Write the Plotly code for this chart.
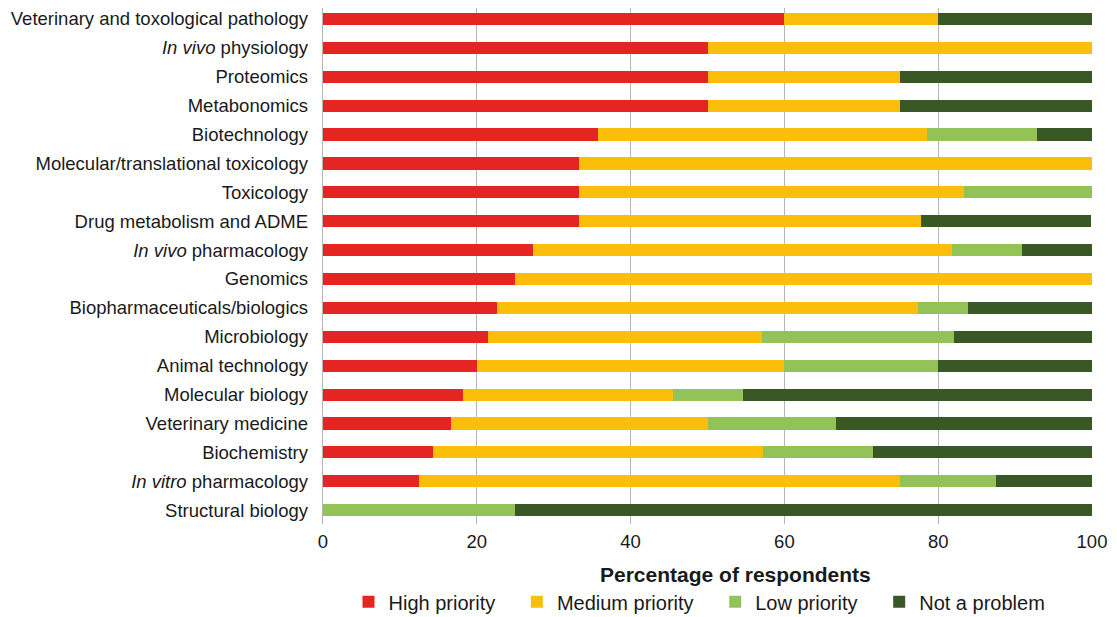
"""Stacked horizontal bar chart: priority by discipline."""

import plotly.graph_objects as go

disciplines = [
    "Veterinary and toxological pathology",
    "<i>In vivo</i> physiology",
    "Proteomics",
    "Metabonomics",
    "Biotechnology",
    "Molecular/translational toxicology",
    "Toxicology",
    "Drug metabolism and ADME",
    "<i>In vivo</i> pharmacology",
    "Genomics",
    "Biopharmaceuticals/biologics",
    "Microbiology",
    "Animal technology",
    "Molecular biology",
    "Veterinary medicine",
    "Biochemistry",
    "<i>In vitro</i> pharmacology",
    "Structural biology",
]

high_priority = [60.0, 50.0, 50.0, 50.0, 35.7, 33.3, 33.3, 33.3, 27.3, 25.0,
                 22.6, 21.4, 20.0, 18.2, 16.7, 14.3, 12.5, 0.0]
medium_priority = [20.0, 50.0, 25.0, 25.0, 42.9, 66.7, 50.0, 44.4, 54.5, 75.0,
                   54.8, 35.7, 40.0, 27.3, 33.3, 42.9, 62.5, 0.0]
low_priority = [0.0, 0.0, 0.0, 0.0, 14.3, 0.0, 16.7, 0.0, 9.1, 0.0,
                6.5, 25.0, 20.0, 9.1, 16.7, 14.3, 12.5, 25.0]
not_a_problem = [20.0, 0.0, 25.0, 25.0, 7.1, 0.0, 0.0, 22.2, 9.1, 0.0,
                 16.1, 17.9, 20.0, 45.4, 33.3, 28.5, 12.5, 75.0]

series = [
    ("High priority", high_priority, "#E52521"),
    ("Medium priority", medium_priority, "#FBBE0B"),
    ("Low priority", low_priority, "#93C356"),
    ("Not a problem", not_a_problem, "#3A5826"),
]

pad = "\u00a0" * 3  # extra room between legend entries

fig = go.Figure()
for name, values, color in series:
    fig.add_trace(
        go.Bar(
            x=values,
            y=disciplines,
            orientation="h",
            name=name + pad,
            marker=dict(color=color, line=dict(width=0)),
            width=0.42,
        )
    )

# the page puts the figure 8px in from the top-left corner
fig.update_layout(
    barmode="stack",
    width=1109,
    height=609,
    margin=dict(l=315, r=25, t=0, b=93, autoexpand=False),
    plot_bgcolor="white",
    paper_bgcolor="white",
    font=dict(family="Liberation Sans, Arial, sans-serif", size=18.5, color="#1a1a1a"),
    legend=dict(
        orientation="h",
        traceorder="normal",
        x=0.5,
        xanchor="center",
        xref="paper",
        y=0.025,
        yref="container",
        yanchor="middle",
        font=dict(size=20),
    ),
    annotations=[
        dict(
            text="<b>Percentage of respondents</b>",
            xref="paper",
            yref="paper",
            x=0.536,
            y=-0.097,
            xanchor="center",
            yanchor="middle",
            showarrow=False,
            font=dict(size=21),
        )
    ],
)
fig.update_xaxes(
    range=[0, 100],
    tickvals=[0, 20, 40, 60, 80, 100],
    showgrid=True,
    gridcolor="#B5B5B5",
    gridwidth=1,
    zeroline=False,
    showline=False,
    ticks="",
    ticklabelstandoff=4,
)
fig.update_yaxes(
    range=[17.48, -0.38],
    showgrid=False,
    showline=True,
    linecolor="#B5B5B5",
    linewidth=1,
    ticks="",
    ticksuffix="  ",
)

fig.write_html("out.html")
